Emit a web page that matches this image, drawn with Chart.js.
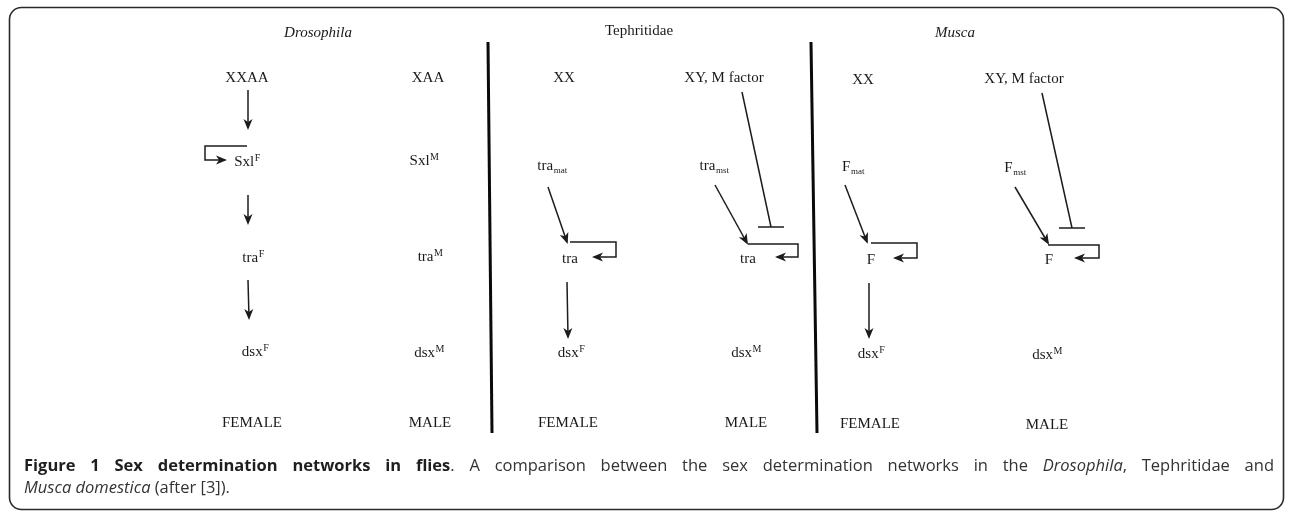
<!DOCTYPE html>
<html>
<head>
<meta charset="utf-8">
<script src="https://cdn.jsdelivr.net/npm/chart.js@4.4.1/dist/chart.umd.min.js"></script>
<style>
  html, body { margin: 0; padding: 0; background: #ffffff; }
  #wrap { width: 1290px; height: 511px; }
</style>
</head>
<body>
<div id="wrap"><canvas id="c" width="1290" height="511"></canvas></div>
<script>
// ---------------- Diagram data (diagram units = page pixels) ----------------
// Node labels: base text, script (superscript / subscript), script kind, italic flag
const nodeText   = ["Drosophila","Tephritidae","Musca",
                    "XXAA","XAA","XX","XY, M factor","XX","XY, M factor",
                    "Sxl","Sxl","tra","tra","F","F",
                    "tra","tra","tra","tra","F","F",
                    "dsx","dsx","dsx","dsx","dsx","dsx",
                    "FEMALE","MALE","FEMALE","MALE","FEMALE","MALE"];
const nodeScript = ["","","",
                    "","","","","","",
                    "F","M","mat","mst","mat","mst",
                    "F","M","","","","",
                    "F","M","F","M","F","M",
                    "","","","","",""];
const nodeScriptKind = ["","","",
                    "","","","","","",
                    "sup","sup","sub","sub","sub","sub",
                    "sup","sup","","","","",
                    "sup","sup","sup","sup","sup","sup",
                    "","","","","",""];
const nodeItalic = [true,false,true].concat(new Array(30).fill(false));
const nodeX = [318,639,955,
               247,428,564,724,863,1024,
               247,424,552,714,853,1015,
               253,430,570,748,871,1049,
               255,429,571,746,871,1047,
               252,430,568,746,870,1047];
const nodeY = [33,31,33,
               78,78,78,78,80,79,
               162,161,166,166,167,168,
               258,257,259,259,260,260,
               352,353,353,353,354,355,
               423,423,423,423,424,425];

// Connections (polylines); end marker: "arrow" or "bar"
const edgePaths = [
  [[248,90],[248,128]],                       // XXAA -> SxlF
  [[248,195],[248,223]],                      // SxlF -> traF
  [[248,280],[249,318]],                      // traF -> dsxF
  [[247,146],[205,146],[205,160],[225,160]],  // Sxl autoregulation
  [[548,187],[567,242]],                      // tra_mat -> tra
  [[567,282],[568,337]],                      // tra -> dsxF
  [[570,242],[616,242],[616,257],[594,257]],  // tra loop (F)
  [[715,185],[747,243]],                      // tra_mst -> tra
  [[742,92],[771,227]],                       // M factor -| tra
  [[748,244],[798,244],[798,257],[777,257]],  // tra loop (M)
  [[845,185],[867,242]],                      // F_mat -> F
  [[869,283],[869,337]],                      // F -> dsxF
  [[871,243],[917,243],[917,258],[895,258]],  // F loop (F)
  [[1015,187],[1048,243]],                    // F_mst -> F
  [[1042,93],[1072,228]],                     // M factor -| F
  [[1048,245],[1099,245],[1099,258],[1076,258]] // F loop (M)
];
const edgeEnd = ["arrow","arrow","arrow","arrow","arrow","arrow","arrow","arrow","bar","arrow","arrow","arrow","arrow","arrow","bar","arrow"];

// Column separators
const separatorPaths = [
  [[488,42],[492,433]],
  [[811,42],[817,433]]
];

// Caption
const captionLine1 = [
  {t:"Figure 1 Sex determination networks in flies", b:true},
  {t:". A comparison between the sex determination networks in the "},
  {t:"Drosophila", i:true},
  {t:", Tephritidae and"}
];
const captionLine2 = [
  {t:"Musca domestica", i:true},
  {t:" (after [3])."}
];

// ---------------- Build chart ----------------
const INK = "#1c1c1c";
const datasets = [];
separatorPaths.forEach(p => datasets.push({
  data: p.map(q => ({x:q[0], y:q[1]})), showLine:true, borderColor:"#0a0a0a",
  borderWidth:3, pointRadius:0, tension:0, fill:false
}));
edgePaths.forEach(p => datasets.push({
  data: p.map(q => ({x:q[0], y:q[1]})), showLine:true, borderColor:INK,
  borderWidth:1.5, pointRadius:0, tension:0, fill:false
}));
datasets.push({
  data: nodeX.map((x,i) => ({x:x, y:nodeY[i]})), pointRadius:0, showLine:false
});

const SERIF = '"Liberation Serif", "Times New Roman", serif';
const SANS = '"Open Sans", "Noto Sans", sans-serif';

const diagramPlugin = {
  id: "diagram",
  afterDatasetsDraw(chart) {
    const ctx = chart.ctx;
    const xs = chart.scales.x, ys = chart.scales.y;
    const px = v => xs.getPixelForValue(v), py = v => ys.getPixelForValue(v);
    ctx.save();

    // Frame
    ctx.strokeStyle = "#2a2a2a";
    ctx.lineWidth = 1.6;
    ctx.beginPath();
    ctx.roundRect(9.5, 7.5, 1274, 502, 12);
    ctx.stroke();

    // End markers
    ctx.fillStyle = INK; ctx.strokeStyle = INK;
    edgePaths.forEach((p, k) => {
      const a = p[p.length-2], b = p[p.length-1];
      const x1 = px(a[0]), y1 = py(a[1]), x2 = px(b[0]), y2 = py(b[1]);
      const ang = Math.atan2(y2-y1, x2-x1);
      if (edgeEnd[k] === "arrow") {
        const L = 9, W = 4.5;
        ctx.save();
        ctx.translate(x2, y2); ctx.rotate(ang);
        ctx.beginPath();
        ctx.moveTo(2, 0);
        ctx.lineTo(-L, -W);
        ctx.lineTo(-L+3, 0);
        ctx.lineTo(-L, W);
        ctx.closePath();
        ctx.fill();
        ctx.restore();
      } else {
        ctx.lineWidth = 1.5;
        const half = 13;
        const nx = Math.cos(ang + Math.PI/2), ny = Math.sin(ang + Math.PI/2);
        ctx.beginPath();
        ctx.moveTo(x2 - half, y2);
        ctx.lineTo(x2 + half, y2);
        ctx.stroke();
      }
    });

    // Node labels
    ctx.fillStyle = "#1a1a1a";
    ctx.textBaseline = "middle";
    ctx.textAlign = "left";
    nodeText.forEach((t, i) => {
      const baseFont = (nodeItalic[i] ? "italic " : "") + "15px " + SERIF;
      ctx.font = baseFont;
      const wb = ctx.measureText(t).width;
      let ws = 0;
      const sc = nodeScript[i];
      const scFont = (nodeScriptKind[i] === "sub" ? "9px " : "10px ") + SERIF;
      if (sc) { ctx.font = scFont; ws = ctx.measureText(sc).width; }
      const cx = px(nodeX[i]), cy = py(nodeY[i]);
      const x0 = cx - (wb + ws) / 2;
      ctx.font = baseFont;
      ctx.fillText(t, x0, cy);
      if (sc) {
        ctx.font = scFont;
        const dy = nodeScriptKind[i] === "sub" ? 5 : -4;
        ctx.fillText(sc, x0 + wb + 0.5, cy + dy);
      }
    });

    // Caption
    function fontFor(r) {
      return (r.i ? "italic " : "") + (r.b ? "bold " : "") + "16.5px " + SANS;
    }
    function segments(runs) {
      const segs = []; let pending = false;
      runs.forEach(r => {
        const parts = r.t.split(" ");
        parts.forEach((s, j) => {
          if (j > 0) pending = true;
          if (s !== "") { segs.push({t:s, f:fontFor(r), b:!!r.b, sp:pending}); pending = false; }
        });
      });
      return segs;
    }
    function drawLine(runs, x0, y, target) {
      const segs = segments(runs);
      ctx.font = fontFor({});
      const spW = ctx.measureText(" ").width;
      let nat = 0, gaps = 0;
      segs.forEach(s => { ctx.font = s.f; s.w = ctx.measureText(s.t).width; nat += s.w; if (s.sp) { nat += spW; gaps++; } });
      const extra = target ? Math.max(0, (target - nat) / gaps) : 0;
      let x = x0;
      segs.forEach(s => {
        if (s.sp) x += spW + extra;
        ctx.font = s.f;
        ctx.fillStyle = s.b ? "#1e1e1e" : "#333333";
        ctx.fillText(s.t, x, y);
        x += s.w;
      });
    }
    ctx.textBaseline = "alphabetic";
    drawLine(captionLine1, 24, 471, 1250);
    drawLine(captionLine2, 24, 493, 0);

    ctx.restore();
  }
};

new Chart(document.getElementById("c"), {
  type: "scatter",
  data: { datasets },
  options: {
    responsive: false,
    animation: false,
    devicePixelRatio: 1,
    layout: { padding: 0 },
    plugins: { legend: { display: false }, tooltip: { enabled: false }, title: { display: false } },
    scales: {
      x: { type: "linear", min: 0, max: 1290, display: false },
      y: { type: "linear", min: 0, max: 511, reverse: true, display: false }
    }
  },
  plugins: [diagramPlugin]
});
</script>
</body>
</html>
